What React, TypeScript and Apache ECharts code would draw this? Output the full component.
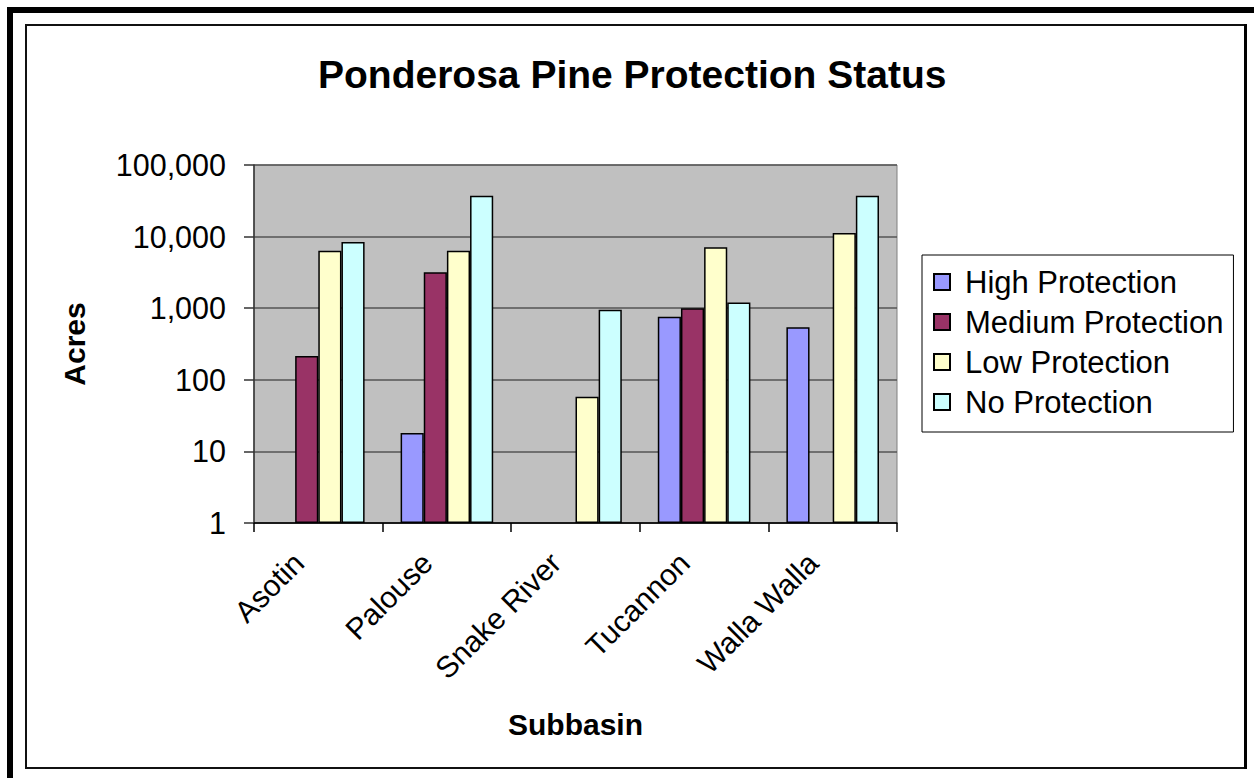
import React, { useEffect, useRef } from "react";
import * as echarts from "echarts";

const categories = ["Asotin", "Palouse", "Snake River", "Tucannon", "Walla Walla"];
const seriesNames = ["High Protection", "Medium Protection", "Low Protection", "No Protection"];
const highValues = [null, 18, null, 760, 540];
const mediumValues = [215, 3170, null, 1000, null];
const lowValues = [6350, 6350, 58, 7100, 11200];
const noValues = [8400, 37300, 955, 1200, 37300];
const seriesColors = ["#9999FF", "#993366", "#FFFFCC", "#CCFFFF"];

const FONT = "'Liberation Sans', Arial, sans-serif";

export default function App() {
  const ref = useRef<HTMLDivElement>(null);
  useEffect(() => {
    if (!ref.current) return;
    const chart = echarts.init(ref.current, undefined, { renderer: "svg" });
    const allValues = [highValues, mediumValues, lowValues, noValues];
    chart.setOption({
      animation: false,
      backgroundColor: "#ffffff",
      textStyle: { fontFamily: FONT },
      title: {
        text: "Ponderosa Pine Protection Status",
        left: 313,
        top: 50,
        textStyle: { fontFamily: FONT, fontSize: 39, fontWeight: "bold", color: "#000" },
      },
      legend: {
        orient: "vertical",
        left: 922,
        top: 255,
        padding: [11, 10, 14, 11],
        itemGap: 8,
        itemWidth: 16,
        itemHeight: 16,
        icon: "rect",
        backgroundColor: "#fff",
        borderColor: "#000",
        borderWidth: 1,
        borderRadius: 0,
        textStyle: { fontFamily: FONT, fontSize: 31, color: "#000", lineHeight: 32, padding: [0, 0, 0, 10] },
        data: seriesNames,
      },
      grid: {
        left: 254,
        right: 357,
        top: 165,
        bottom: 255,
        show: true,
        backgroundColor: "#C0C0C0",
        borderColor: "#808080",
        borderWidth: 1,
      },
      xAxis: {
        type: "category",
        data: categories,
        name: "Subbasin",
        nameLocation: "middle",
        nameGap: 186,
        nameTextStyle: { fontFamily: FONT, fontSize: 30, fontWeight: "bold", color: "#000" },
        axisLine: { lineStyle: { color: "#000", width: 1.5 } },
        axisTick: { show: true, length: 9, lineStyle: { color: "#000", width: 1.5 } },
        axisLabel: {
          rotate: 45,
          margin: 15,
          padding: [0, 28, 0, 0],
          fontFamily: FONT,
          fontSize: 30,
          color: "#000",
        },
      },
      yAxis: {
        type: "log",
        logBase: 10,
        min: 1,
        max: 100000,
        name: "Acres",
        nameLocation: "middle",
        nameGap: 165,
        nameTextStyle: { fontFamily: FONT, fontSize: 30, fontWeight: "bold", color: "#000" },
        axisLine: { show: true, lineStyle: { color: "#333", width: 1.5 } },
        axisTick: { show: true, length: 10, lineStyle: { color: "#333", width: 1.5 } },
        axisLabel: {
          margin: 28,
          fontFamily: FONT,
          fontSize: 30.5,
          color: "#000",
          formatter: (v: number) => Math.round(v).toLocaleString("en-US"),
        },
        splitLine: { show: true, lineStyle: { color: "#555", width: 1.5 } },
      },
      series: seriesNames.map((name, i) => ({
        name,
        type: "bar",
        data: allValues[i].map((v) => (v === null ? "-" : v)),
        barGap: "0%",
        barCategoryGap: "28%",
        itemStyle: { color: seriesColors[i], borderColor: "#000", borderWidth: 1.5 },
      })),
      graphic: [
        {
          type: "rect",
          shape: { x: 10, y: 10, width: 1300, height: 900 },
          style: { fill: "none", stroke: "#000", lineWidth: 6 },
          silent: true,
        },
        {
          type: "rect",
          shape: { x: 26, y: 25, width: 1219.5, height: 743 },
          style: { fill: "none", stroke: "#111", lineWidth: 2 },
          silent: true,
        },
        {
          type: "line",
          shape: { x1: 1245.5, y1: 24, x2: 1245.5, y2: 769 },
          style: { stroke: "#000", lineWidth: 3 },
          silent: true,
        },
      ],
    });
    return () => chart.dispose();
  }, []);
  return (
    <div
      ref={ref}
      style={{ position: "fixed", left: 0, top: 0, width: 1254, height: 778 }}
    />
  );
}
